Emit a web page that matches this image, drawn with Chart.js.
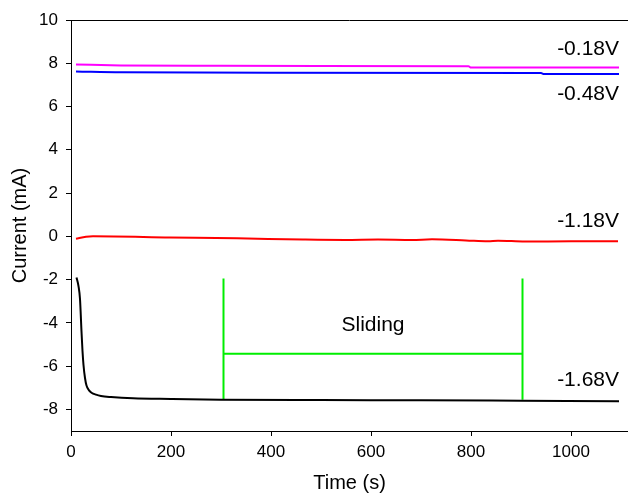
<!DOCTYPE html>
<html>
<head>
<meta charset="utf-8">
<script src="https://cdn.jsdelivr.net/npm/chart.js@4"></script>
<style>
  html, body { margin: 0; padding: 0; background: #fff; }
  #wrap { width: 628px; height: 499px; }
</style>
</head>
<body>
<div id="wrap"><canvas id="chart" width="628" height="499"></canvas></div>
<script>
// valores (tempo em s, corrente em mA)
const xTicks = [0, 200, 400, 600, 800, 1000];
const yTicks = [-8, -6, -4, -2, 0, 2, 4, 6, 8, 10];

const curva018 = [[10, 7.94], [100, 7.9], [300, 7.88], [500, 7.87], [795, 7.86], [800, 7.8], [1096, 7.8]];
const curva048 = [[10, 7.62], [100, 7.58], [400, 7.56], [940, 7.55], [946, 7.5], [1096, 7.5]];
const curva118 = [[10, -0.11], [30, -0.02], [44, 0.0], [198, -0.05], [332, -0.09], [464, -0.15], [548, -0.17],
  [614, -0.15], [682, -0.17], [722, -0.14], [790, -0.19], [834, -0.23], [854, -0.2], [908, -0.24], [1000, -0.23], [1094, -0.23]];
const curva168 = [[11, -1.9], [15, -2.3], [18, -2.9], [21, -4.4], [23, -5.3], [25, -5.95], [28, -6.55], [31, -6.9],
  [36, -7.12], [41, -7.23], [50, -7.32], [60, -7.38], [80, -7.43], [124, -7.49], [200, -7.52], [300, -7.55],
  [500, -7.57], [700, -7.58], [900, -7.6], [1096, -7.62]];

// marcação "Sliding"
const slidingInicio = 305, slidingFim = 903;
const slidingTopo = -1.95, slidingBase = -7.55, slidingMeio = -5.43;

// rótulos de potencial: [texto, x, y]
const rotulos = [['-0.18V', 1096, 8.64], ['-0.48V', 1096, 6.56], ['-1.18V', 1096, 0.7], ['-1.68V', 1096, -6.66]];

const pts = arr => arr.map(p => ({ x: p[0], y: p[1] }));

function serie(dados, cor) {
  return { data: pts(dados), borderColor: cor, borderWidth: 2, pointRadius: 0, fill: false,
    cubicInterpolationMode: 'monotone' };
}
function verde(dados) {
  return { data: pts(dados), borderColor: '#00ee00', borderWidth: 2, pointRadius: 0, fill: false, tension: 0 };
}

const textos = {
  id: 'textos',
  afterDatasetsDraw(chart) {
    const { ctx, scales: { x, y }, chartArea } = chart;
    ctx.save();
    // borda superior
    ctx.strokeStyle = '#000';
    ctx.lineWidth = 1;
    ctx.beginPath();
    ctx.moveTo(chartArea.left, Math.round(chartArea.top) + 0.5);
    ctx.lineTo(chartArea.right, Math.round(chartArea.top) + 0.5);
    ctx.stroke();

    ctx.fillStyle = '#000';
    ctx.font = '21px "Liberation Sans", Arial, sans-serif';
    ctx.textAlign = 'right';
    ctx.textBaseline = 'middle';
    rotulos.forEach(r => ctx.fillText(r[0], x.getPixelForValue(r[1]), y.getPixelForValue(r[2])));

    ctx.textAlign = 'center';
    ctx.fillText('Sliding', x.getPixelForValue((slidingInicio + slidingFim) / 2), y.getPixelForValue(-4.12));
    ctx.restore();
  }
};

const ctx = document.getElementById('chart').getContext('2d');
new Chart(ctx, {
  type: 'line',
  data: {
    datasets: [
      serie(curva018, '#ff00ff'),
      serie(curva048, '#0000ff'),
      serie(curva118, '#ff0000'),
      serie(curva168, '#000000'),
      verde([[slidingInicio, slidingTopo], [slidingInicio, slidingBase]]),
      verde([[slidingFim, slidingTopo], [slidingFim, slidingBase]]),
      verde([[slidingInicio, slidingMeio], [slidingFim, slidingMeio]])
    ]
  },
  options: {
    responsive: false,
    animation: false,
    layout: { padding: { top: 20, right: 0, left: 0, bottom: 0 } },
    plugins: { legend: { display: false }, tooltip: { enabled: false } },
    scales: {
      x: {
        type: 'linear',
        min: 0,
        max: 1114,
        afterBuildTicks: s => { s.ticks = xTicks.map(v => ({ value: v })); },
        afterFit: s => { s.height = 68; },
        grid: { drawOnChartArea: false, drawTicks: true, tickLength: 5, tickColor: '#000' },
        border: { display: true, color: '#000', width: 1 },
        ticks: { color: '#000', padding: 6, maxRotation: 0, callback: v => String(v),
          font: { size: 17, family: '"Liberation Sans", Arial' } },
        title: { display: true, text: 'Time (s)', color: '#000', padding: { top: 0, bottom: 4 },
          font: { size: 20, family: '"Liberation Sans", Arial' } }
      },
      y: {
        type: 'linear',
        min: -9,
        max: 10,
        afterBuildTicks: s => { s.ticks = yTicks.map(v => ({ value: v })); },
        afterFit: s => { s.width = 71; },
        grid: { drawOnChartArea: false, drawTicks: true, tickLength: 5, tickColor: '#000' },
        border: { display: true, color: '#000', width: 1 },
        ticks: { color: '#000', padding: 8, callback: v => String(v),
          font: { size: 17, family: '"Liberation Sans", Arial' } },
        title: { display: true, text: 'Current (mA)', color: '#000', padding: { top: 8, bottom: 0 },
          font: { size: 20, family: '"Liberation Sans", Arial' } }
      }
    }
  },
  plugins: [textos]
});
</script>
</body>
</html>
